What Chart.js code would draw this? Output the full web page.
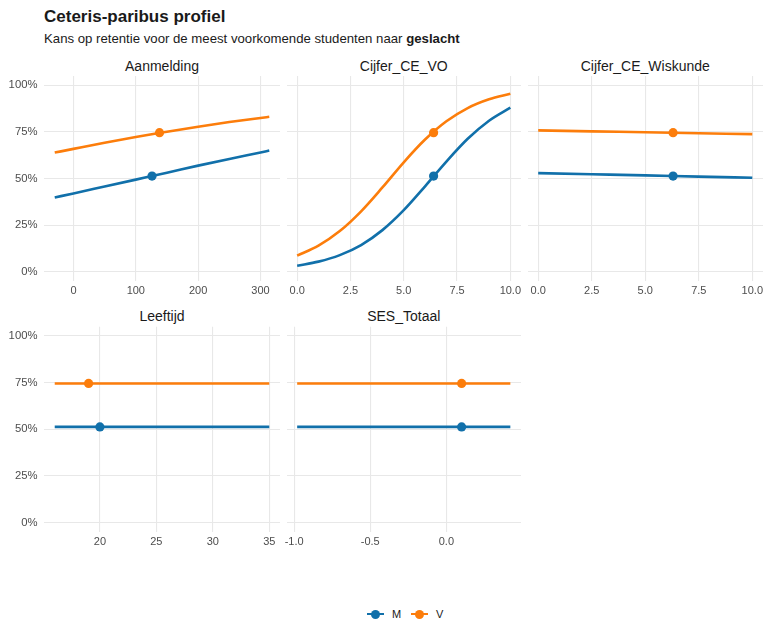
<!DOCTYPE html>
<html>
<head>
<meta charset="utf-8">
<script src="https://cdn.jsdelivr.net/npm/chart.js@4/dist/chart.umd.min.js"></script>
<style>
  html, body { margin: 0; padding: 0; background: #fff; overflow: hidden; }
  body { width: 763px; height: 622px; position: relative; font-family: "Liberation Sans", Arial, sans-serif; color: #1a1a1a; }
  canvas { position: absolute; }
  .title { position: absolute; left: 44px; top: 7px; font-size: 17px; font-weight: bold; white-space: nowrap; }
  .subtitle { position: absolute; left: 44px; top: 31px; font-size: 13.2px; white-space: nowrap; }
  .strip { position: absolute; font-size: 14px; text-align: center; line-height: 16px; color: #1a1a1a; }
  .key { position: absolute; width: 17px; height: 10px; }
  .key .ln { position: absolute; left: 0; right: 0; top: 3.7px; height: 2.6px; }
  .key .pt { position: absolute; left: 4px; top: 0.5px; width: 9px; height: 9px; border-radius: 50%; }
  .lbl { position: absolute; font-size: 11px; line-height: 12px; }
</style>
</head>
<body>
<div class="title">Ceteris-paribus profiel</div>
<div class="subtitle">Kans op retentie voor de meest voorkomende studenten naar <b>geslacht</b></div>
<div id="strips"></div>
<div id="legend"></div>

<script>
// Groups and colours
const groups = ['M', 'V'];
const groupColors = ['#1170aa', '#fc7d0b'];

// Predicted retention of the reference student per group
const observedM = 0.513;
const observedV = 0.746;

// Y axis (probability)
const yTicks = [0, 0.25, 0.5, 0.75, 1];
const yTickLabels = ['0%', '25%', '50%', '75%', '100%'];

// Aanmelding profile
const aanmeldingX = [-30, 0, 50, 100, 150, 200, 250, 300, 314];
const aanmeldingM = [0.398, 0.420, 0.457, 0.494, 0.531, 0.569, 0.605, 0.640, 0.650];
const aanmeldingV = [0.639, 0.659, 0.692, 0.723, 0.751, 0.778, 0.803, 0.825, 0.831];
const aanmeldingObs = [126, 138];
const aanmeldingTicks = [0, 100, 200, 300];
const aanmeldingTickLabels = ['0', '100', '200', '300'];

// Cijfer_CE_VO profile
const ceVoX = [0, 1, 2, 3, 4, 5, 6, 7, 8, 9, 10];
const ceVoM = [0.032, 0.054, 0.089, 0.143, 0.223, 0.330, 0.458, 0.591, 0.713, 0.810, 0.880];
const ceVoV = [0.086, 0.140, 0.218, 0.324, 0.452, 0.587, 0.709, 0.807, 0.878, 0.925, 0.955];
const ceVoObs = [6.4, 6.4];
const gradeTicks = [0, 2.5, 5, 7.5, 10];
const gradeTickLabels = ['0.0', '2.5', '5.0', '7.5', '10.0'];

// Cijfer_CE_Wiskunde profile
const ceWiskX = [0, 2.5, 5, 7.5, 10];
const ceWiskM = [0.529, 0.523, 0.517, 0.510, 0.504];
const ceWiskV = [0.758, 0.753, 0.748, 0.743, 0.738];
const ceWiskObs = [6.3, 6.3];

// Leeftijd profile
const leeftijdX = [16, 35];
const leeftijdM = [0.513, 0.513];
const leeftijdV = [0.746, 0.746];
const leeftijdObs = [20, 19];
const leeftijdTicks = [20, 25, 30, 35];
const leeftijdTickLabels = ['20', '25', '30', '35'];

// SES_Totaal profile
const sesX = [-0.98, 0.42];
const sesM = [0.513, 0.513];
const sesV = [0.746, 0.746];
const sesObs = [0.1, 0.1];
const sesTicks = [-1, -0.5, 0];
const sesTickLabels = ['-1.0', '-0.5', '0.0'];

// Facet geometry
const cols = [[44, 280], [286.5, 521], [527.5, 763]];
const rows = [[76, 280.3], [326.7, 531.6]];

const panels = [
  { name: 'Aanmelding', col: 0, row: 0, xs: aanmeldingX, m: aanmeldingM, v: aanmeldingV, obs: aanmeldingObs, ticks: aanmeldingTicks, labels: aanmeldingTickLabels },
  { name: 'Cijfer_CE_VO', col: 1, row: 0, xs: ceVoX, m: ceVoM, v: ceVoV, obs: ceVoObs, ticks: gradeTicks, labels: gradeTickLabels },
  { name: 'Cijfer_CE_Wiskunde', col: 2, row: 0, xs: ceWiskX, m: ceWiskM, v: ceWiskV, obs: ceWiskObs, ticks: gradeTicks, labels: gradeTickLabels },
  { name: 'Leeftijd', col: 0, row: 1, xs: leeftijdX, m: leeftijdM, v: leeftijdV, obs: leeftijdObs, ticks: leeftijdTicks, labels: leeftijdTickLabels },
  { name: 'SES_Totaal', col: 1, row: 1, xs: sesX, m: sesM, v: sesV, obs: sesObs, ticks: sesTicks, labels: sesTickLabels }
];

Chart.defaults.font.family = '"Liberation Sans", Arial, sans-serif';
Chart.defaults.color = '#4d4d4d';

const strips = document.getElementById('strips');

panels.forEach((p) => {
  const [x0, x1] = cols[p.col];
  const [y0, y1] = rows[p.row];
  const showY = p.col === 0;
  const yW = showY ? 44 : 0;
  const canvasLeft = Math.floor(x0 - (showY ? yW : 14));
  const padL = x0 - canvasLeft - yW;
  const padR = 14;
  const canvasTop = Math.floor(y0) - 8;
  const padT = y0 - canvasTop;
  const xH = 22;
  const width = Math.ceil(x1 - canvasLeft + padR);
  const height = Math.ceil(y1 - canvasTop + xH);

  // strip label
  const s = document.createElement('div');
  s.className = 'strip';
  s.style.left = x0 + 'px';
  s.style.width = (x1 - x0) + 'px';
  s.style.top = (y0 - 18.5) + 'px';
  s.textContent = p.name;
  strips.appendChild(s);

  const cv = document.createElement('canvas');
  cv.width = width; cv.height = height;
  cv.style.left = canvasLeft + 'px';
  cv.style.top = canvasTop + 'px';
  cv.style.width = width + 'px';
  cv.style.height = height + 'px';
  document.body.appendChild(cv);

  const dMin = Math.min(...p.xs), dMax = Math.max(...p.xs);
  const ex = (dMax - dMin) * 0.05;

  const lineSet = (vals, i) => ({
    type: 'line',
    data: p.xs.map((x, k) => ({ x: x, y: vals[k] })),
    borderColor: groupColors[i],
    borderWidth: 2.6,
    pointRadius: 0,
    cubicInterpolationMode: 'monotone',
    fill: false,
    order: 2
  });
  const obsSet = (xv, yv, i) => ({
    type: 'scatter',
    data: [{ x: xv, y: yv }],
    backgroundColor: groupColors[i],
    borderColor: groupColors[i],
    pointRadius: 4.6,
    borderWidth: 0,
    order: 1
  });

  new Chart(cv, {
    type: 'line',
    data: {
      datasets: [
        lineSet(p.m, 0), lineSet(p.v, 1),
        obsSet(p.obs[0], observedM, 0), obsSet(p.obs[1], observedV, 1)
      ]
    },
    options: {
      responsive: false,
      animation: false,
      events: [],
      layout: { padding: { left: padL, right: padR, top: padT, bottom: 0 } },
      plugins: { legend: { display: false }, tooltip: { enabled: false } },
      scales: {
        x: {
          type: 'linear',
          min: dMin - ex,
          max: dMax + ex,
          border: { display: false },
          grid: { color: '#e8e8e8', lineWidth: 1.1, drawTicks: false },
          ticks: {
            autoSkip: false, maxRotation: 0, padding: 3,
            font: { size: 11 }, color: '#4d4d4d',
            callback: (v, idx) => p.labels[idx]
          },
          afterBuildTicks: (sc) => { sc.ticks = p.ticks.map(v => ({ value: v })); },
          afterFit: (sc) => { sc.height = xH; sc.paddingLeft = 0; sc.paddingRight = 0; }
        },
        y: {
          type: 'linear',
          min: -0.05,
          max: 1.05,
          border: { display: false },
          grid: { color: '#e8e8e8', lineWidth: 1.1, drawTicks: false },
          ticks: {
            display: showY, padding: 6.5,
            font: { size: 11.3 }, color: '#4d4d4d',
            callback: (v, idx) => yTickLabels[idx]
          },
          afterBuildTicks: (sc) => { sc.ticks = yTicks.map(v => ({ value: v })); },
          afterFit: (sc) => { sc.width = yW; sc.paddingTop = 0; sc.paddingBottom = 0; }
        }
      }
    }
  });
});

// legend below the panels
const legend = document.getElementById('legend');
const keyLefts = [367, 411];
const lblLefts = [392, 436];
groups.forEach((g, i) => {
  const k = document.createElement('div');
  k.className = 'key';
  k.style.left = keyLefts[i] + 'px';
  k.style.top = '609px';
  k.innerHTML = '<span class="ln" style="background:' + groupColors[i] +
    '"></span><span class="pt" style="background:' + groupColors[i] + '"></span>';
  legend.appendChild(k);
  const t = document.createElement('div');
  t.className = 'lbl';
  t.style.left = lblLefts[i] + 'px';
  t.style.top = '608px';
  t.textContent = g;
  legend.appendChild(t);
});
</script>
</body>
</html>
